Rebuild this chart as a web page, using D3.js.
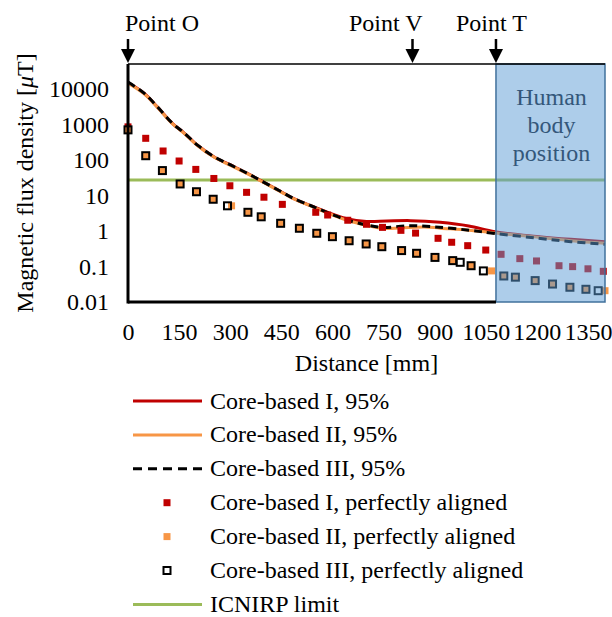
<!DOCTYPE html>
<html>
<head>
<meta charset="utf-8">
<script src="https://cdn.jsdelivr.net/npm/d3@7"></script>
<style>
  body { margin: 0; background: #fff; }
  svg text { font-family: "Liberation Serif", "Times New Roman", serif; fill: #000; }
</style>
</head>
<body>
<svg id="chart" width="612" height="617"></svg>
<script>
// distances in mm, flux density in uT
const coreI95X = [0, 47, 86, 130, 164, 203, 252, 301, 350, 390, 446, 485, 544, 603, 642, 700, 760, 830, 916, 1000, 1077, 1200, 1300, 1400];
const coreI95Y = [15000, 7500, 3100, 1070, 580, 262, 123, 72, 42, 26, 13.3, 8.3, 4.8, 2.9, 2.2, 1.85, 1.9, 1.95, 1.75, 1.38, 0.95, 0.7, 0.58, 0.5];

const coreII95X = [0, 47, 86, 130, 164, 203, 252, 301, 350, 390, 446, 485, 544, 603, 642, 700, 750, 800, 870, 916, 1000, 1077, 1200, 1300, 1400];
const coreII95Y = [14500, 7300, 3050, 1050, 570, 258, 120, 70, 41, 25.5, 13, 8.1, 4.7, 2.75, 2.0, 1.45, 1.18, 1.22, 1.3, 1.2, 1.05, 0.88, 0.67, 0.53, 0.45];

const coreIII95X = [0, 47, 86, 130, 164, 203, 252, 301, 350, 390, 446, 485, 544, 603, 642, 700, 750, 820, 900, 1000, 1077, 1200, 1300, 1400];
const coreIII95Y = [15500, 7600, 3150, 1080, 585, 265, 124, 72, 42, 26, 13.3, 8.3, 4.8, 2.8, 2.04, 1.47, 1.25, 1.4, 1.3, 1.05, 0.85, 0.63, 0.5, 0.42];

const coreIAlignedX = [0, 52, 103, 150, 199, 252, 299, 348, 399, 453, 551, 586, 645, 700, 747, 801, 844, 910, 950, 997, 1050, 1095, 1150, 1199, 1265, 1305, 1350, 1395];
const coreIAlignedY = [850, 405, 178, 93, 54, 30, 18.7, 12.2, 8.9, 5.6, 3.35, 2.81, 2.0, 1.54, 1.26, 1.04, 0.87, 0.62, 0.48, 0.385, 0.29, 0.22, 0.166, 0.143, 0.105, 0.099, 0.086, 0.073];

const coreIIAlignedX = [0, 52, 101, 153, 201, 250, 304, 352, 391, 448, 503, 554, 600, 649, 699, 745, 803, 847, 901, 953, 1007, 1067, 1103, 1137, 1195, 1246, 1297, 1344, 1400];
const coreIIAlignedY = [700, 131, 50, 21, 12.7, 7.8, 5.1, 3.35, 2.5, 1.64, 1.19, 0.86, 0.69, 0.53, 0.43, 0.36, 0.28, 0.235, 0.18, 0.146, 0.105, 0.075, 0.054, 0.05, 0.04, 0.032, 0.026, 0.0228, 0.0208];

const coreIIIAlignedX = [0, 52, 101, 153, 201, 250, 292, 352, 391, 448, 503, 554, 600, 649, 699, 745, 803, 847, 901, 953, 975, 1007, 1043, 1103, 1137, 1195, 1246, 1297, 1344, 1380];
const coreIIIAlignedY = [700, 131, 50, 21, 12.7, 7.8, 5.1, 3.35, 2.5, 1.64, 1.19, 0.86, 0.69, 0.53, 0.43, 0.36, 0.28, 0.235, 0.18, 0.146, 0.131, 0.105, 0.075, 0.054, 0.05, 0.04, 0.032, 0.026, 0.0228, 0.0208];

const icnirpLimit = 27;
const bodyStart = 1080;

const xTicks = [0, 150, 300, 450, 600, 750, 900, 1050, 1200, 1350];
const yTicks = [0.01, 0.1, 1, 10, 100, 1000, 10000];

const markers = [
  { label: "Point O", at: 0, anchor: "start", dx: -3 },
  { label: "Point V", at: 835, anchor: "end", dx: 10 },
  { label: "Point T", at: bodyStart, anchor: "start", dx: -40 }
];

const legendItems = [
  { label: "Core-based I, 95%", type: "line", color: "#c00000" },
  { label: "Core-based II, 95%", type: "line", color: "#f79646" },
  { label: "Core-based III, 95%", type: "dash", color: "#000" },
  { label: "Core-based I, perfectly aligned", type: "square", color: "#c00000" },
  { label: "Core-based II, perfectly aligned", type: "square", color: "#f79646" },
  { label: "Core-based III, perfectly aligned", type: "hollow", color: "#000" },
  { label: "ICNIRP limit", type: "line", color: "#9bbb59" }
];

const plotLeft = 128, plotRight = 605, plotTop = 64, plotBottom = 302;

const svg = d3.select("#chart");
const x = d3.scaleLinear().domain([0, 1400]).range([plotLeft, plotRight]);
const y = d3.scaleLog().domain([0.01, 50000]).range([plotBottom, plotTop]);

const zip = (xs, ys) => xs.map((d, i) => [d, ys[i]]);
const line = d3.line()
  .x(d => x(d[0]))
  .y(d => y(d[1]))
  .curve(d3.curveCatmullRom.alpha(0.5));

// ICNIRP limit
svg.append("line")
  .attr("x1", x(0)).attr("x2", x(1400))
  .attr("y1", y(icnirpLimit)).attr("y2", y(icnirpLimit))
  .attr("stroke", "#9bbb59").attr("stroke-width", 3);

// 95% curves
svg.append("path").datum(zip(coreI95X, coreI95Y))
  .attr("d", line).attr("fill", "none")
  .attr("stroke", "#c00000").attr("stroke-width", 3);
svg.append("path").datum(zip(coreII95X, coreII95Y))
  .attr("d", line).attr("fill", "none")
  .attr("stroke", "#f79646").attr("stroke-width", 3);
svg.append("path").datum(zip(coreIII95X, coreIII95Y))
  .attr("d", line).attr("fill", "none")
  .attr("stroke", "#000").attr("stroke-width", 3)
  .attr("stroke-dasharray", "8,5");

// aligned markers
const sq = 7;
svg.append("g").selectAll("rect")
  .data(zip(coreIAlignedX, coreIAlignedY)).join("rect")
  .attr("x", d => x(d[0]) - sq / 2).attr("y", d => y(d[1]) - sq / 2)
  .attr("width", sq).attr("height", sq).attr("fill", "#c00000");
svg.append("g").selectAll("rect")
  .data(zip(coreIIAlignedX, coreIIAlignedY)).join("rect")
  .attr("x", d => x(d[0]) - sq / 2).attr("y", d => y(d[1]) - sq / 2)
  .attr("width", sq).attr("height", sq).attr("fill", "#f79646");
svg.append("g").selectAll("rect")
  .data(zip(coreIIIAlignedX, coreIIIAlignedY)).join("rect")
  .attr("x", d => x(d[0]) - sq / 2).attr("y", d => y(d[1]) - sq / 2)
  .attr("width", sq).attr("height", sq).attr("fill", "none")
  .attr("stroke", "#000").attr("stroke-width", 2);

// human body region
svg.append("rect")
  .attr("x", x(bodyStart)).attr("y", plotTop)
  .attr("width", x(1400) - x(bodyStart)).attr("height", plotBottom - plotTop)
  .attr("fill", "rgba(91,155,213,0.5)")
  .attr("stroke", "#41719c").attr("stroke-width", 1.5);

const bodyText = svg.append("text")
  .attr("text-anchor", "middle").attr("font-size", 24)
  .style("fill", "#34577a");
["Human", "body", "position"].forEach((t, i) => {
  bodyText.append("tspan")
    .attr("x", (x(bodyStart) + x(1400)) / 2 + 1)
    .attr("y", 105 + i * 28)
    .text(t);
});

// frame
svg.append("line").attr("x1", plotLeft).attr("x2", plotRight).attr("y1", plotTop).attr("y2", plotTop)
  .attr("stroke", "#000").attr("stroke-width", 1.5);
svg.append("line").attr("x1", plotLeft).attr("x2", plotLeft).attr("y1", plotTop).attr("y2", plotBottom + 1.5)
  .attr("stroke", "#000").attr("stroke-width", 3);
svg.append("line").attr("x1", plotLeft).attr("x2", x(bodyStart)).attr("y1", plotBottom).attr("y2", plotBottom)
  .attr("stroke", "#000").attr("stroke-width", 3);

// axes
const yAxis = svg.append("g")
  .attr("transform", `translate(${plotLeft},0)`)
  .call(d3.axisLeft(y).tickValues(yTicks).tickFormat(d => String(d)).tickSize(0).tickPadding(19));
yAxis.select(".domain").remove();
yAxis.attr("font-family", null).attr("font-size", 24);

const xAxis = svg.append("g")
  .attr("transform", `translate(0,${plotBottom})`)
  .call(d3.axisBottom(x).tickValues(xTicks).tickFormat(d => String(d)).tickSize(0).tickPadding(21));
xAxis.select(".domain").remove();
xAxis.attr("font-family", null).attr("font-size", 24);

svg.append("text")
  .attr("x", (plotLeft + plotRight) / 2).attr("y", 371)
  .attr("text-anchor", "middle").attr("font-size", 24)
  .text("Distance [mm]");

const yTitle = svg.append("text")
  .attr("transform", `translate(33,${(plotTop + plotBottom) / 2}) rotate(-90)`)
  .attr("text-anchor", "middle").attr("font-size", 24);
yTitle.append("tspan").text("Magnetic flux density [");
yTitle.append("tspan").attr("font-style", "italic").text("\u03bc");
yTitle.append("tspan").text("T]");

// point arrows
markers.forEach(m => {
  const px = x(m.at);
  svg.append("line").attr("x1", px).attr("x2", px).attr("y1", 39).attr("y2", 52)
    .attr("stroke", "#000").attr("stroke-width", 2.5);
  svg.append("path")
    .attr("d", `M${px - 7},49 L${px + 7},49 L${px},63 Z`).attr("fill", "#000");
  svg.append("text")
    .attr("x", px + m.dx).attr("y", 31)
    .attr("text-anchor", m.anchor).attr("font-size", 24)
    .text(m.label);
});

// legend
const legend = svg.append("g");
legendItems.forEach((item, i) => {
  const ry = 401 + i * 33.9;
  const g = legend.append("g");
  if (item.type === "line" || item.type === "dash") {
    g.append("line").attr("x1", 133).attr("x2", 202).attr("y1", ry).attr("y2", ry)
      .attr("stroke", item.color).attr("stroke-width", 3)
      .attr("stroke-dasharray", item.type === "dash" ? "9,6" : null);
  } else if (item.type === "square") {
    g.append("rect").attr("x", 167 - 3.5).attr("y", ry - 3.5).attr("width", 7).attr("height", 7)
      .attr("fill", item.color);
  } else {
    g.append("rect").attr("x", 167 - 3.5).attr("y", ry - 3.5).attr("width", 7).attr("height", 7)
      .attr("fill", "none").attr("stroke", item.color).attr("stroke-width", 2);
  }
  g.append("text").attr("x", 210).attr("y", ry + 7.5).attr("font-size", 24).text(item.label);
});
</script>
</body>
</html>
